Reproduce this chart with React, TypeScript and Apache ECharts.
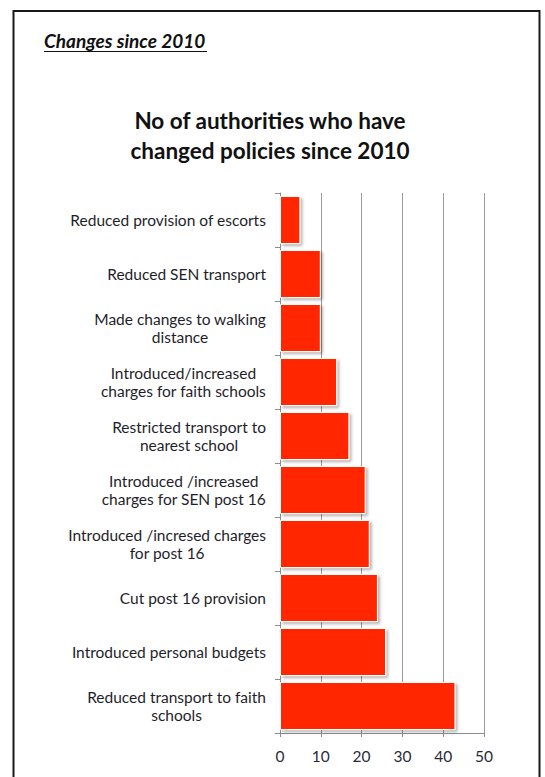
import React, { useEffect, useRef } from "react";
import * as echarts from "echarts";

const categories: string[] = [
  "Reduced provision of escorts",
  "Reduced SEN transport",
  "Made changes to walking\ndistance",
  "Introduced/increased\ncharges for faith schools",
  "Restricted transport to\nnearest school",
  "Introduced /increased\ncharges for SEN post 16",
  "Introduced /incresed charges\nfor post 16",
  "Cut post 16 provision",
  "Introduced personal budgets",
  "Reduced transport to faith\nschools",
];
const values: number[] = [5, 10, 10, 14, 17, 21, 22, 24, 26, 43];
const xTicks = { min: 0, max: 50, interval: 10 };
const pageTitle = "Changes since 2010";
const chartTitle = "No of authorities who have\nchanged policies since 2010";

const FONT = "Lato, 'Open Sans', sans-serif";

export default function App() {
  const ref = useRef<HTMLDivElement>(null);
  useEffect(() => {
    if (!ref.current) return;
    const chart = echarts.init(ref.current, undefined, { renderer: "svg" });
    chart.setOption({
      animation: false,
      backgroundColor: "#ffffff",
      textStyle: { fontFamily: FONT },
      title: {
        text: chartTitle,
        left: 265,
        top: 100,
        textAlign: "center",
        textStyle: {
          fontFamily: FONT,
          fontSize: 22.5,
          fontWeight: "bold",
          color: "#111",
          lineHeight: 30,
        },
      },
      graphic: [
        {
          type: "rect",
          shape: { x: 13.5, y: 11, width: 526, height: 800 },
          style: { fill: "none", stroke: "#1a1a1a", lineWidth: 2 },
        },
        {
          type: "text",
          x: 44,
          y: 50,
          style: {
            text: pageTitle,
            fontFamily: FONT,
            fontSize: 19,
            fontWeight: "bold",
            fontStyle: "italic",
            fill: "#111",
            verticalAlign: "bottom",
          },
        },
        {
          type: "line",
          shape: { x1: 44, y1: 51.5, x2: 207, y2: 51.5 },
          style: { stroke: "#111", lineWidth: 1.2 },
        },
      ],
      grid: { left: 280, right: 61, top: 193, bottom: 44, containLabel: false },
      xAxis: {
        type: "value",
        min: xTicks.min,
        max: xTicks.max,
        interval: xTicks.interval,
        axisLine: { show: true, lineStyle: { color: "#8c8c8c", width: 1 } },
        axisTick: { show: true, length: 4, lineStyle: { color: "#8c8c8c" } },
        splitLine: { show: true, lineStyle: { color: "#9a9a9a", width: 1 } },
        axisLabel: { fontFamily: FONT, fontSize: 15.5, color: "#2a2a3a", margin: 15 },
      },
      yAxis: {
        type: "category",
        inverse: true,
        data: categories,
        axisLine: { show: true, lineStyle: { color: "#8c8c8c", width: 1 } },
        axisTick: { show: true, length: 5, lineStyle: { color: "#8c8c8c" } },
        axisLabel: {
          fontFamily: FONT,
          fontSize: 15.5,
          color: "#1e1e2a",
          margin: 14,
          align: "right",
          lineHeight: 18,
          formatter: (v: string) =>
            v
              .split("\n")
              .map((l) => `{c|${l}}`)
              .join("\n"),
          rich: {
            c: {
              align: "center",
              fontFamily: FONT,
              fontSize: 15.5,
              color: "#1e1e2a",
              lineHeight: 18,
            },
          },
        },
      },
      series: [
        {
          type: "bar",
          data: values,
          barCategoryGap: "11%",
          itemStyle: {
            color: "#ff2600",
            borderColor: "#ffffff",
            borderWidth: 1,
            shadowColor: "rgba(0,0,0,0.3)",
            shadowBlur: 3,
            shadowOffsetX: 2,
            shadowOffsetY: 2,
          },
        },
      ],
    });
    return () => chart.dispose();
  }, []);
  return (
    <div
      ref={ref}
      style={{ position: "absolute", left: 0, top: 0, width: 545, height: 777 }}
    />
  );
}
